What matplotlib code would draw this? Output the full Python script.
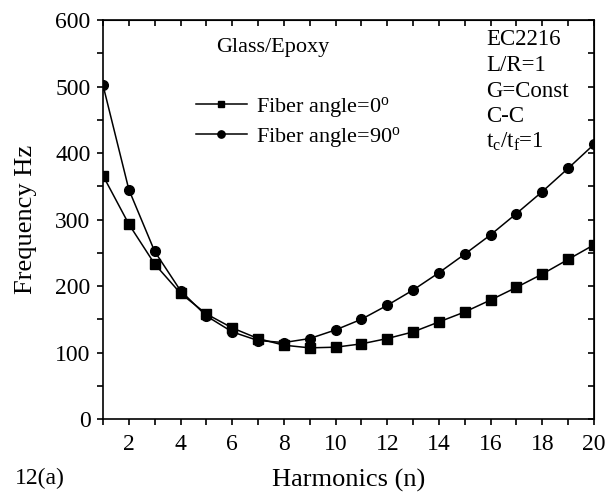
import numpy as np
import matplotlib
matplotlib.use('Agg')
import matplotlib.pyplot as plt
from matplotlib.ticker import MultipleLocator

plt.rcParams['font.family'] = 'Liberation Serif'
plt.rcParams['mathtext.fontset'] = 'custom'
plt.rcParams['mathtext.rm'] = 'Liberation Serif'
plt.rcParams['mathtext.it'] = 'Liberation Serif'

# harmonics and frequencies (Hz)
n = np.arange(1, 21)
f_0deg = [366, 293, 233, 189, 158, 137, 121, 111, 107, 108,
          113, 121, 131, 146, 161, 179, 198, 218, 240, 262]
f_90deg = [502, 345, 252, 193, 155, 131, 118, 115, 121, 134,
           150, 171, 194, 220, 248, 277, 309, 342, 377, 413]

fig = plt.figure(figsize=(6.07, 4.94), dpi=100)
ax = fig.add_axes([0.1697, 0.1518, 0.8089, 0.8077])

ax.plot(n, f_0deg, 'k-', marker='s', ms=6.5, lw=1.1,
        label=r'Fiber angle=0$^\mathrm{o}$')
ax.plot(n, f_90deg, 'k-', marker='o', ms=7, lw=1.1,
        label=r'Fiber angle=90$^\mathrm{o}$')

ax.set_xlim(1, 20)
ax.set_ylim(0, 600)
ax.xaxis.set_major_locator(MultipleLocator(2))
ax.xaxis.set_minor_locator(MultipleLocator(1))
ax.yaxis.set_major_locator(MultipleLocator(100))
ax.yaxis.set_minor_locator(MultipleLocator(50))
ax.tick_params(axis='both', which='both', direction='out', length=4,
               width=1.2, labelsize=17, top=False, right=False)
ax.tick_params(axis='x', pad=7)
ax.tick_params(axis='y', pad=5)
ax.set_xticks(np.arange(2, 21, 2))
for s in ax.spines.values():
    s.set_linewidth(1.2)

# inward ticks on top and right
top = ax.secondary_xaxis('top')
top.xaxis.set_major_locator(MultipleLocator(2))
top.xaxis.set_minor_locator(MultipleLocator(1))
top.tick_params(which='both', direction='in', length=4, width=1.2, labeltop=False)
right = ax.secondary_yaxis('right')
right.yaxis.set_major_locator(MultipleLocator(100))
right.yaxis.set_minor_locator(MultipleLocator(50))
right.tick_params(which='both', direction='in', length=4, width=1.2, labelright=False)

ax.set_xlabel('Harmonics (n)', fontsize=19, labelpad=10)
ax.set_ylabel('Frequency Hz', fontsize=19, labelpad=13)

ax.legend(loc='upper left', bbox_to_anchor=(0.148, 0.862), frameon=False,
          fontsize=16, handlelength=2.3, handletextpad=0.4, labelspacing=0.2,
          markerscale=0.75)

ax.text(0.345, 0.932, 'Glass/Epoxy', transform=ax.transAxes, fontsize=16,
        ha='center', va='center')
info = ['EC2216', 'L/R=1', 'G=Const', 'C-C', r'$\mathrm{t_c/t_f}$=1']
for i, s in enumerate(info):
    ax.text(0.78, 0.95 - i * 0.064, s, transform=ax.transAxes,
            fontsize=16.5, ha='left', va='center')

fig.text(0.024, 0.032, '12(a)', fontsize=17, ha='left', va='center')

fig.savefig('out.png', dpi=100)
